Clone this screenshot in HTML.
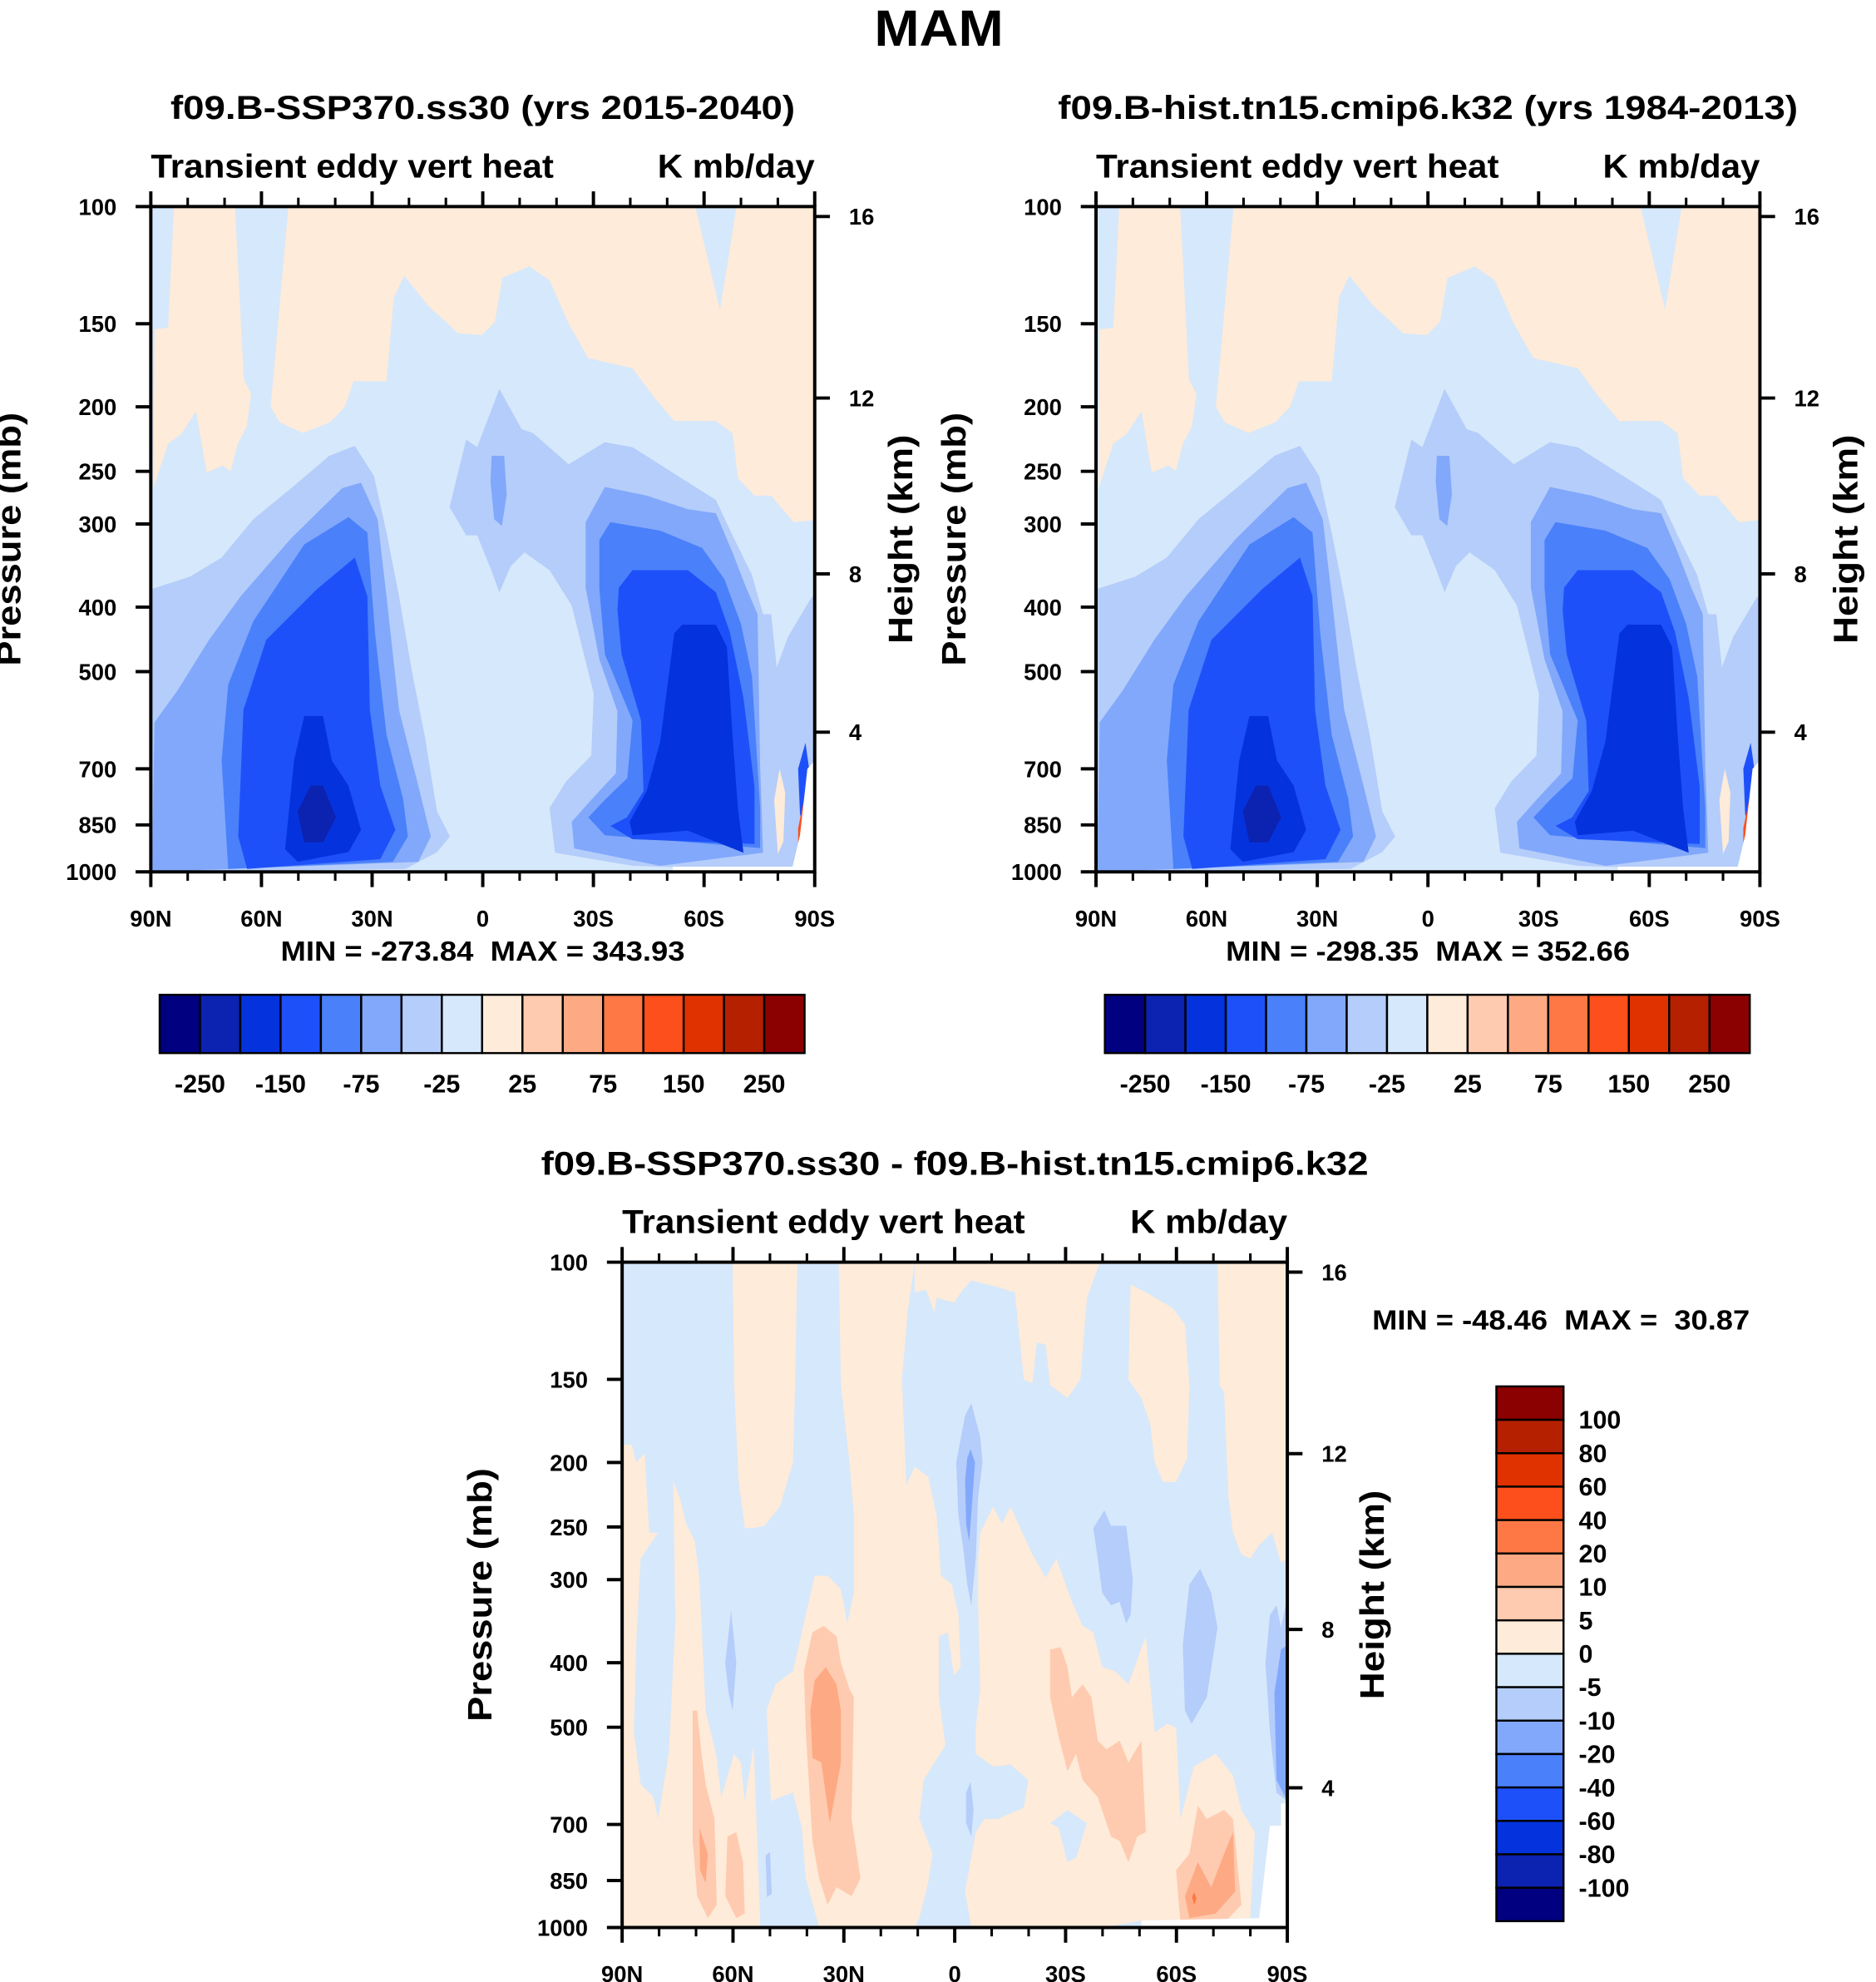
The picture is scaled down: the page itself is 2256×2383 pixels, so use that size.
<!DOCTYPE html>
<html><head><meta charset="utf-8">
<style>
html,body{margin:0;padding:0;background:#fff;}
svg{display:block;font-family:"Liberation Sans",Arial,sans-serif;font-weight:bold;}
</style></head>
<body>
<svg id="chart" xmlns="http://www.w3.org/2000/svg" width="2256" height="2383" viewBox="0 0 1480.6 1564">
<rect x="0" y="0" width="1480.6" height="1564" fill="#fff"/>
<text x="741" y="36" font-size="40" text-anchor="middle" textLength="102" lengthAdjust="spacingAndGlyphs">MAM</text>
</svg>
<script>
// ---------- data ----------
const paletteColors=["#000080","#0c22b0","#0433dd","#1e50fa","#4a80fa","#82a8fb","#b4cdfa","#d6e8fb","#feebd9","#fecbb0","#fdaa84","#fd7845","#fc4f1b","#e03200","#b42000","#8b0000"];
const cbLevelsAbs=[-250,-200,-150,-100,-75,-50,-25,0,25,50,75,100,150,200,250];
const cbLevelsDiff=[-100,-80,-60,-40,-20,-10,-5,0,5,10,20,40,60,80,100];
const latTicks=[90,60,30,0,-30,-60,-90];
const latTickLabels=["90N","60N","30N","0","30S","60S","90S"];
const pressureTicks=[100,150,200,250,300,400,500,700,850,1000];
const heightTicks=[16,12,8,4];
const heightTickPressure=[103.5,194.0,356.5,616.6];
const minMaxAbs1=[-273.84,343.93];
const minMaxAbs2=[-298.35,352.66];
const minMaxDiff=[-48.46,30.87];

// Panel 1/2 contour regions: [lat, pressure] vertices, level = palette index
const p1OrangeLeft=[[89,153],[85.3,152],[83.7,100],[67.2,100],[64.8,182],[62.8,191],[64,214],[66.4,227],[68.4,250],[70.4,245],[74.9,251],[77.7,203],[81.8,220],[85.3,227],[89.3,265]];
const p1OrangeMain=[[52.7,100],[57.5,200],[55.1,211],[48.7,219],[41.4,211],[37.4,200],[35,183],[26.1,183],[24.1,137],[21.3,127],[14.8,141],[10,149],[6.8,155],[0.3,156],[-3.3,149],[-5.3,128],[-12.6,123],[-18.1,129],[-23.3,150],[-28.6,169],[-40.6,175],[-46.6,194],[-51.9,210],[-63.2,210],[-67.7,219],[-69.2,256],[-73.7,272],[-78.2,272],[-84.3,298],[-90,296],[-90,100],[-68.8,100],[-64.3,143],[-57.6,100]];
const p1NhL1=[[90,376],[79.4,360],[70.8,337],[62.2,295],[51.9,265],[41.6,237],[34.7,229],[29.5,254],[26.1,309],[22.7,385],[19.2,500],[15.8,622],[12.4,811],[8.9,885],[12.4,934],[21,990],[90,1000]];
const p1NhL2=[[89,596],[82.8,534],[74.2,448],[65.6,385],[51.9,315],[38.1,265],[33,260],[28.5,295],[26.1,385],[22.7,571],[17.5,742],[14.1,885],[17.5,966],[89.7,1000]];
const p1NhL3=[[70.8,680],[69,523],[62.2,420],[48.4,322],[36.4,293],[31.3,309],[29.2,438],[26.1,622],[21.6,776],[20.3,885],[24.4,966],[69,990]];
const p1NhL4=[[66.3,885],[64.9,571],[58.7,448],[45,376],[34.7,337],[31.3,385],[30.6,571],[27.8,742],[23.7,865],[27.8,957],[63.9,990]];
const p1NhL5=[[53.6,925],[51.2,680],[48.4,583],[43.3,583],[40.9,680],[36.4,742],[33,865],[36.4,934],[50.2,966]];
const p1NhL6=[[50.2,811],[46.7,742],[43.3,742],[39.8,828],[43.3,903],[48.4,903]];
const p1ShL1=[[4.5,224],[1.5,230],[-4.5,188],[-10.5,216],[-13.6,219],[-23.3,244],[-33.1,226],[-40.6,230],[-51.9,252],[-63.2,276],[-67.7,312],[-73,358],[-76,410],[-78.2,410],[-79.7,493],[-82.8,443],[-89.2,386],[-90,386],[-90,1000],[-40.6,979],[-19.6,936],[-18.1,802],[-22.6,731],[-29.4,669],[-30.1,540],[-24.1,398],[-18.1,352],[-11.3,331],[-7.6,347],[-4.5,380],[-2.3,352],[1.5,312],[4.5,312],[9,283]];
const p1EqSpot=[[-2.4,237],[-5.8,237],[-6.5,271],[-5.2,302],[-3.1,295],[-2.1,259]];
const p1ShL2=[[-27.9,298],[-33.1,264],[-44.4,272],[-55.6,285],[-63.2,289],[-67.7,331],[-71.4,374],[-74.5,410],[-75.2,690],[-76,936],[-48.1,979],[-24.8,922],[-24.1,841],[-29.4,779],[-36.1,711],[-36.5,574],[-31.6,479],[-27.9,374]];
const p1ShL3=[[-31.6,317],[-34.6,298],[-48.1,307],[-59.5,326],[-65.5,363],[-70,424],[-73,508],[-75.2,803],[-75.2,921],[-33.1,881],[-28.6,828],[-33.1,779],[-39.2,723],[-40.6,592],[-33.1,471],[-31.6,374]];
const p1ShL4=[[-36.9,374],[-40.6,352],[-55.6,352],[-63.2,380],[-67,436],[-70.7,548],[-73.7,745],[-73.7,908],[-40.6,893],[-34.6,853],[-39.1,828],[-43.6,756],[-42.9,592],[-37.6,471],[-36.5,404]];
const p1ShL5=[[-51.9,438],[-54.1,425],[-63.2,425],[-66.2,459],[-67.7,622],[-69.2,803],[-70.7,936],[-55.6,867],[-40.6,881],[-39.8,841],[-44.4,756],[-48.1,638],[-50.4,508]];
const p1PoleOrange=[[-79,780],[-80.5,700],[-82,760],[-81.5,900],[-80,940]];
const p1PoleBlue=[[-85.5,700],[-87.5,640],[-88.5,700],[-87.5,860],[-86,820]];
const p1PoleRed=[[-85.5,860],[-87.5,760],[-88.5,800],[-87,960],[-85.5,990]];
const p1Missing=[[-51.5,982],[-84,982],[-86,880],[-88,700],[-90,680],[-90,1000],[-51.5,1000]];
const p1Layers=[
 {pts:p1OrangeLeft,level:8},{pts:p1OrangeMain,level:8},
 {pts:p1NhL1,level:6},{pts:p1NhL2,level:5},{pts:p1NhL3,level:4},{pts:p1NhL4,level:3},{pts:p1NhL5,level:2},{pts:p1NhL6,level:1},
 {pts:p1ShL1,level:6},{pts:p1EqSpot,level:5},{pts:p1ShL2,level:5},{pts:p1ShL3,level:4},{pts:p1ShL4,level:3},{pts:p1ShL5,level:2},
 {pts:p1PoleOrange,level:8},{pts:p1PoleBlue,level:3},{pts:p1PoleRed,level:12},{pts:p1Missing,level:-1}
];
const p2Layers=p1Layers;

// Panel 3 (difference) regions
const p3OrangeA=[[60.1,100],[42.6,100],[43.2,153],[43.8,200],[47.3,233],[51.5,249],[54.4,251],[56.8,251],[58.5,213],[59.7,153]];
const p3OrangeB=[[31.4,100],[10.8,100],[12.6,117],[14.3,150],[13.1,216],[10.8,203],[7.2,210],[4.9,240],[3.7,296],[0.8,305],[-1,339],[-1.6,406],[0.2,418],[1.9,360],[4.3,365],[4.3,451],[2.5,532],[8.4,600],[9.6,687],[6,775],[7.2,857],[9.6,968],[10.8,1000],[36.7,1000],[40.3,844],[41.4,708],[43.8,627],[47.3,637],[49.7,646],[50.9,472],[48.5,431],[43.8,412],[41.4,360],[37.9,296],[34.4,296],[30.8,310],[29.1,349],[27.3,314],[27.3,240],[28.5,200],[30.8,153]];
const p3OrangeD=[[10.8,100],[-39.3,100],[-35.8,113],[-34,150],[-30.5,160],[-25.8,153],[-24.6,133],[-22.2,132],[-21,152],[-18.7,150],[-16.3,111],[-11.6,109],[-4.5,106.5],[-2.2,110],[0.2,115],[4.9,113],[5.5,119],[7.8,110],[10.8,111]];
const p3OrangeC=[[-6.9,255],[-10.4,233],[-12.8,247],[-15.1,233],[-21,275],[-24.6,298],[-27.5,279],[-31.7,324],[-34.6,352],[-37.5,360],[-39.9,406],[-43.4,412],[-47,431],[-51.7,365],[-54.1,509],[-57.6,494],[-59.9,501],[-61.1,687],[-64.7,573],[-70.6,548],[-75.3,591],[-77.6,666],[-81.2,719],[-80,968],[-50.5,976],[-39.9,1000],[-4.5,1000],[-2.8,883],[-5.7,719],[-8.1,687],[-11.6,687],[-18.7,661],[-19.9,600],[-15.1,569],[-10.4,573],[-5.7,548],[-5.7,501],[-6.9,438],[-6.3,324],[-6.3,279]];
const p3OrangeE=[[-47.6,108],[-51.7,111],[-58.8,117],[-62.3,124],[-63.5,153],[-62.9,197],[-59.9,214],[-56.4,214],[-54.1,200],[-52.9,175],[-50.5,160],[-47,150]];
const p3OrangeF=[[-71.1,100],[-90,100],[-90,279],[-88.3,283],[-85.9,255],[-82.4,266],[-80,279],[-77.6,275],[-75.3,255],[-74.1,226],[-72.9,157],[-71.7,153]];
const p3OrangeG=[[90,188],[87.4,188],[86.2,200],[83.9,194],[82.7,255],[80.3,255],[85,279],[86.2,376],[86.8,509],[85,609],[81.5,637],[80.3,687],[77.4,548],[75.6,349],[76.2,213],[74.4,226],[72.7,247],[70.3,263],[69.1,300],[67.4,472],[64.4,556],[63.2,637],[59.7,548],[57.9,565],[56.8,646],[54.4,532],[53.2,797],[52.6,1000],[90,1000]];
const p3BlueBay=[[-25.8,697],[-30.5,666],[-35.8,697],[-32.8,786],[-30.5,797],[-28.1,708]];
const p3S1=[[38.5,360],[35.5,352],[32,365],[30.8,400],[28.5,438],[27.3,451],[27.9,687],[25.5,844],[27.9,897],[32,870],[34.4,924],[36.7,844],[38.5,741],[40.3,509],[40.8,412]];
const p3S2=[[37.9,425],[34.9,406],[32,431],[30.8,472],[30.8,565],[33.8,697],[36.1,565],[38.5,556],[39.1,472]];
const p3S3=[[-25.8,382],[-28.7,379],[-30.5,406],[-31.7,451],[-34.6,431],[-37,451],[-38.7,524],[-41.1,540],[-44.6,524],[-47,565],[-50.5,524],[-51.7,719],[-49.4,730],[-47,797],[-44.6,741],[-42.3,730],[-38.7,637],[-34.6,600],[-32.8,548],[-30.5,582],[-28.1,516],[-25.8,451]];
const p3S4=[[70.9,472],[69.7,472],[68.5,548],[67.4,609],[65,687],[64.4,924],[66.8,968],[69.7,897],[70.9,741]];
const p3S4i=[[69.1,708],[66.8,775],[67.4,857],[68.9,820]];
const p3S4b=[[61.5,730],[59.1,719],[57.3,797],[56.8,953],[59.1,968],[62.1,897]];
const p3S5=[[-59.9,820],[-63.5,775],[-65.8,656],[-68.2,687],[-72.9,666],[-75.3,687],[-77.6,924],[-72.9,984],[-61.1,984]];
const p3S6=[[-62.3,897],[-65.8,797],[-69.4,870],[-72.9,775],[-75.3,719],[-75.9,883],[-70.6,953],[-63.5,968]];
const p3S7=[[-64.2,900],[-64.8,885],[-65.4,905],[-64.8,925]];
const p3B1=[[-0.4,200],[-2.8,170],[-4.5,163],[-6.9,183],[-7.5,200],[-6.3,226],[-5.7,279],[-4.5,328],[-3.4,305],[-2.2,266],[-1,240]];
const p3B1b=[[-3.4,197],[-4.3,191],[-5.5,200],[-4.8,226],[-3.9,263],[-3.1,247],[-2.8,213]];
const p3B2=[[-37.5,251],[-40.5,236],[-42.3,249],[-46.4,249],[-48.2,300],[-47.6,339],[-46.4,349],[-44.6,324],[-42.3,328],[-39.9,314],[-38.7,279]];
const p3B3=[[-61.7,376],[-63.5,305],[-66.4,289],[-69.4,314],[-71.1,354],[-68.2,451],[-64.1,494],[-62.3,472]];
const p3B4=[[-84.1,400],[-85.3,339],[-87.1,328],[-88.3,354],[-90,319],[-90,646],[-87.1,627],[-85.3,509]];
const p3B4b=[[-86.5,444],[-88.3,382],[-90,376],[-90,646],[-87.1,600]];
const p3B5=[[62.1,400],[60.5,334],[59.1,400],[60.1,472],[61.2,444]];
const p3B6=[[-3.1,627],[-4.3,604],[-5.1,666],[-4.5,730],[-3.1,697]];
const p3B7=[[51.2,780],[50,770],[49.5,890],[50.8,900]];
const p3PoleDark=[[-83.8,840],[-84.6,830],[-85,880],[-84,890]];
const p3Missing=[[-88.3,651],[-90,651],[-90,1000],[-50.5,1000],[-50.5,976],[-82.4,968],[-85.3,703],[-88.3,703]];
const p3Layers=[
 {pts:p3OrangeA,level:8},{pts:p3OrangeB,level:8},{pts:p3OrangeD,level:8},{pts:p3OrangeC,level:8},
 {pts:p3OrangeE,level:8},{pts:p3OrangeF,level:8},{pts:p3OrangeG,level:8},{pts:p3BlueBay,level:7},
 {pts:p3S1,level:9},{pts:p3S2,level:10},{pts:p3S3,level:9},{pts:p3S4,level:9},{pts:p3S4i,level:10},
 {pts:p3S4b,level:9},{pts:p3S5,level:9},{pts:p3S6,level:10},{pts:p3S7,level:11},
 {pts:p3B1,level:6},{pts:p3B1b,level:5},{pts:p3B2,level:6},{pts:p3B3,level:6},{pts:p3B4,level:6},
 {pts:p3B4b,level:5},{pts:p3B5,level:6},{pts:p3B6,level:6},{pts:p3B7,level:6},{pts:p3PoleDark,level:3},
 {pts:p3Missing,level:-1}
];

// ---------- rendering ----------
const NS='http://www.w3.org/2000/svg';
const svg=document.getElementById('chart');
function mk(tag,attrs,parent){const e=document.createElementNS(NS,tag);for(const k in attrs)e.setAttribute(k,attrs[k]);(parent||svg).appendChild(e);return e;}
function makeAxes(x0,y0,w,h){return {x:lat=>x0+(90-lat)/180*w,y:p=>y0+(Math.log10(p)-2)*h};}
function txt(str,x,y,size,anchor,parent,len){const t=mk('text',{x:x,y:y,'font-size':size,'text-anchor':anchor||'start'},parent);if(len){t.setAttribute('textLength',len);t.setAttribute('lengthAdjust','spacingAndGlyphs');}t.textContent=str;return t;}

function drawPanel(id,x0,y0,w,h,layers,title,titleLen,mmVals,mmLen,mmX,mmY,pTitleX,hTitleX){
  const ax=makeAxes(x0,y0,w,h);
  const g=mk('g',{});
  
  
  const defs=mk('defs',{},g);
  const cp=mk('clipPath',{id:id+'-clip'},defs);
  mk('rect',{x:x0,y:y0,width:w,height:h},cp);
  const field=mk('g',{'clip-path':'url(#'+id+'-clip)'},g);
  
  
  const base=mk('rect',{x:x0,y:y0,width:w,height:h,fill:paletteColors[7]},field);
  
  
  layers.forEach((L,i)=>{
    const pts=L.pts.map(d=>ax.x(d[0]).toFixed(1)+','+ax.y(d[1]).toFixed(1)).join(' ');
    const poly=mk('polygon',{points:pts,fill:L.level<0?'#fff':paletteColors[L.level]},field);
    
    
  });
  const frame=mk('rect',{x:x0,y:y0,width:w,height:h,fill:'none',stroke:'#000','stroke-width':2.6},g);
  
  
  // lat ticks
  for(let lat=90;lat>=-90;lat-=10){
    const major=lat%30===0;const L=major?12:7;const x=ax.x(lat);
    const tb=mk('line',{x1:x,y1:y0+h,x2:x,y2:y0+h+L,stroke:'#000','stroke-width':major?2.6:2},g);
    
    
    const tt=mk('line',{x1:x,y1:y0,x2:x,y2:y0-L,stroke:'#000','stroke-width':major?2.6:2},g);
    
    
  }
  latTicks.forEach((lat,i)=>{
    const t=txt(latTickLabels[i],ax.x(lat),y0+h+43,18,'middle',g);
    
    
  });
  pressureTicks.forEach(p=>{
    const y=ax.y(p);
    const l=mk('line',{x1:x0-12,y1:y,x2:x0,y2:y,stroke:'#000','stroke-width':2.6},g);
    
    
    const t=txt(String(p),x0-27,y+6.5,18,'end',g);
    
    
  });
  heightTicks.forEach((hk,i)=>{
    const y=ax.y(heightTickPressure[i]);
    const l=mk('line',{x1:x0+w,y1:y,x2:x0+w+12,y2:y,stroke:'#000','stroke-width':2.6},g);
    
    
    const t=txt(String(hk),x0+w+27,y+6.5,18,'start',g);
    
    
  });
  const tt=txt(title,x0+w/2,y0-69,26,'middle',g,titleLen);
  
  
  const s1=txt('Transient eddy vert heat',x0,y0-23,26,'start',g,318);
  
  
  const s2=txt('K mb/day',x0+w,y0-23,26,'end',g,124);
  
  
  const yc=y0+h/2;
  const pt=mk('text',{x:0,y:0,'font-size':27,'text-anchor':'middle',transform:'translate('+(pTitleX)+','+yc+') rotate(-90)',textLength:200,lengthAdjust:'spacingAndGlyphs'},g);
  
  
  pt.textContent='Pressure (mb)';
  const ht=mk('text',{x:0,y:0,'font-size':27,'text-anchor':'middle',transform:'translate('+(hTitleX)+','+yc+') rotate(-90)',textLength:165,lengthAdjust:'spacingAndGlyphs'},g);
  
  
  ht.textContent='Height (km)';
  const mmStr='MIN = '+mmVals[0].toFixed(2)+'  MAX = '+(mmVals[1]<100?' ':'')+mmVals[1].toFixed(2);
  const mm=txt(mmStr,mmX,mmY,22,'middle',g,mmLen);
  
  
  mm.setAttribute('xml:space','preserve');
  mm.style.whiteSpace='pre';
}

function drawHColorbar(id,x0,y0,w,h){
  const g=mk('g',{});
  
  
  const bw=w/paletteColors.length;
  paletteColors.forEach((c,i)=>{
    const r=mk('rect',{x:x0+i*bw,y:y0,width:bw,height:h,fill:c,stroke:'#000','stroke-width':1.6},g);
    
    
  });
  cbLevelsAbs.forEach((v,i)=>{
    if(i%2!==0)return;
    const t=txt(String(v),x0+(i+1)*bw,y0+h+31,20,'middle',g);
    
    
  });
}
function drawVColorbar(id,x0,y0,w,h){
  const g=mk('g',{});
  
  
  const n=paletteColors.length;const bh=h/n;
  for(let i=0;i<n;i++){
    const r=mk('rect',{x:x0,y:y0+i*bh,width:w,height:bh,fill:paletteColors[n-1-i],stroke:'#000','stroke-width':1.6},g);
    
    
  }
  const m=cbLevelsDiff.length;
  cbLevelsDiff.forEach((v,i)=>{
    const t=txt(String(v),x0+w+12,y0+(m-i)*bh+7,20,'start',g);
    
    
  });
}

drawPanel('panel-ssp370',119,163,524,525,p1Layers,'f09.B-SSP370.ss30 (yrs 2015-2040)',493,minMaxAbs1,319,381,758,16,720);
drawPanel('panel-hist',865,163,524,525,p2Layers,'f09.B-hist.tn15.cmip6.k32 (yrs 1984-2013)',584,minMaxAbs2,319,1127,758,762,1466);
drawPanel('panel-diff',491,996,525,525,p3Layers,'f09.B-SSP370.ss30 - f09.B-hist.tn15.cmip6.k32',653,minMaxDiff,298,1232,1049,388,1092);
drawHColorbar('colorbar-ssp370',126,785,509,46);
drawHColorbar('colorbar-hist',872,785,509,46);
drawVColorbar('colorbar-diff',1181,1094,53,422);
</script>
</body></html>
